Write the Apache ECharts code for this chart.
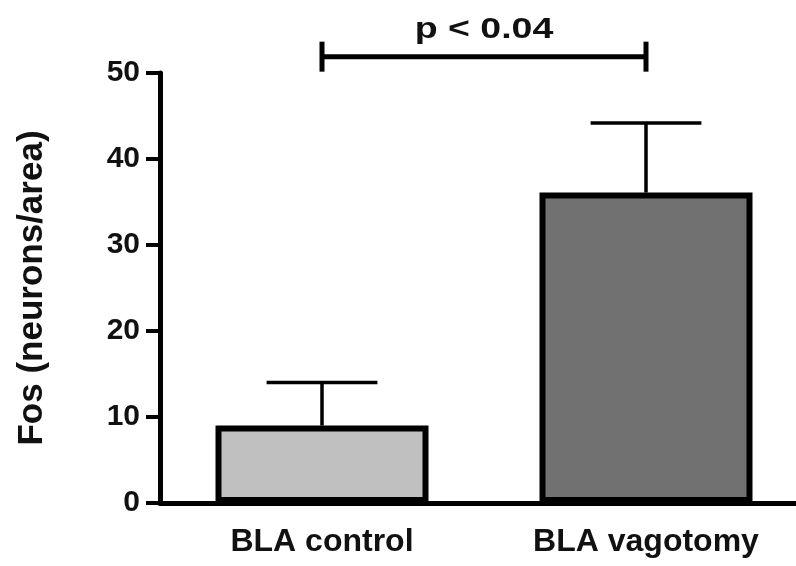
<!DOCTYPE html>
<html>
<head>
<meta charset="utf-8">
<script src="https://cdn.jsdelivr.net/npm/echarts@6/dist/echarts.min.js"></script>
<style>html,body{margin:0;padding:0;background:#fff;}#c{width:796px;height:566px;}</style>
</head>
<body>
<div id="c"></div>
<script>
var categories = ['BLA control', 'BLA vagotomy'];
var means = [9.0, 36.1];
var sems = [5.0, 8.1];
var barColors = ['#c0c0c0', '#717171'];
var yTicks = [0, 10, 20, 30, 40, 50];
var sigLabel = 'p < 0.04';
var sigLevel = 51.9;
var sigTextLevel = 55.0;

var FONT = '"Liberation Sans", Arial, Helvetica, sans-serif';
var chart = echarts.init(document.getElementById('c'));
chart.setOption({
  animation: false,
  backgroundColor: '#ffffff',
  grid: { left: 160, top: 73, width: 648, height: 430, containLabel: false, outerBoundsMode: 'none' },
  xAxis: {
    type: 'category',
    data: categories,
    axisLine: { lineStyle: { color: '#000', width: 5 } },
    axisTick: { alignWithLabel: true, length: 12, lineStyle: { color: '#000', width: 4 } },
    axisLabel: { color: '#111', fontFamily: FONT, fontWeight: 'bold', fontSize: 32, margin: 23 }
  },
  yAxis: {
    type: 'value',
    min: yTicks[0], max: yTicks[yTicks.length - 1], interval: 10,
    name: 'Fos (neurons/area)',
    nameLocation: 'middle',
    nameGap: 110,
    nameTextStyle: { color: '#111', fontFamily: FONT, fontWeight: 'bold', fontSize: 35 },
    axisLine: { show: true, lineStyle: { color: '#000', width: 5 } },
    axisTick: { show: true, length: 14, lineStyle: { color: '#000', width: 4 } },
    axisLabel: { color: '#111', fontFamily: FONT, fontWeight: 'bold', fontSize: 30, margin: 20 },
    splitLine: { show: false }
  },
  series: [
    {
      type: 'bar',
      barWidth: 213,
      data: means.map(function (v, i) {
        return { value: v, itemStyle: { color: barColors[i] } };
      }),
      itemStyle: { borderColor: '#000', borderWidth: 6 },
      z: 2
    },
    {
      type: 'custom',
      z: 3,
      clip: false,
      data: means.map(function (v, i) { return [i, v, sems[i]]; }),
      renderItem: function (params, api) {
        var i = api.value(0), m = api.value(1), e = api.value(2);
        var p0 = api.coord([i, m]);
        var p1 = api.coord([i, m + e]);
        var hw = api.size([1, 0])[0] * 0.171;
        var st = { stroke: '#000', lineWidth: 3.5 };
        return {
          type: 'group',
          children: [
            { type: 'line', shape: { x1: p0[0], y1: p0[1], x2: p1[0], y2: p1[1] }, style: st },
            { type: 'line', shape: { x1: p1[0] - hw, y1: p1[1], x2: p1[0] + hw, y2: p1[1] }, style: st }
          ]
        };
      }
    },
    {
      type: 'custom',
      z: 4,
      clip: false,
      data: [[0, 1, sigLevel, sigTextLevel]],
      renderItem: function (params, api) {
        var a = api.coord([api.value(0), api.value(2)]);
        var b = api.coord([api.value(1), api.value(2)]);
        var ty = api.coord([api.value(0), api.value(3)])[1];
        var tx = (a[0] + b[0]) / 2;
        var st = { stroke: '#000', lineWidth: 5 };
        return {
          type: 'group',
          children: [
            { type: 'line', shape: { x1: a[0], y1: a[1], x2: b[0], y2: b[1] }, style: st },
            { type: 'line', shape: { x1: a[0], y1: a[1] - 15, x2: a[0], y2: a[1] + 15 }, style: st },
            { type: 'line', shape: { x1: b[0], y1: b[1] - 15, x2: b[0], y2: b[1] + 15 }, style: st },
            { type: 'text', x: tx, y: ty, scaleX: 1.25, style: { text: sigLabel, fill: '#111', font: 'bold 30px ' + FONT, align: 'center', verticalAlign: 'middle' } }
          ]
        };
      }
    }
  ]
});
</script>
</body>
</html>
